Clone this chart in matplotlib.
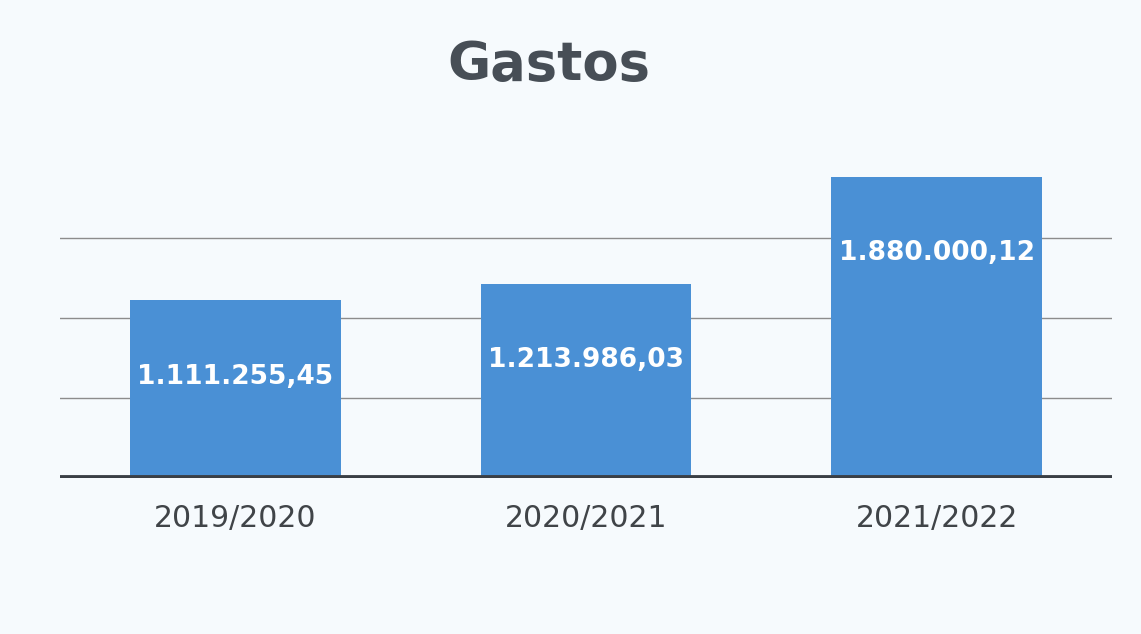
import matplotlib.pyplot as plt

categories = ["2019/2020", "2020/2021", "2021/2022"]
values = [1111255.45, 1213986.03, 1880000.12]
labels = ["1.111.255,45", "1.213.986,03", "1.880.000,12"]
title = "Gastos"

bg = "#f6fafd"
bar_color = "#4a90d5"

fig = plt.figure(figsize=(11.41, 6.34), dpi=100, facecolor=bg)
ax = fig.add_axes([0.0526, 0.246, 0.922, 0.505], facecolor=bg)

x = range(len(categories))
bars = ax.bar(x, values, width=0.6, color=bar_color, zorder=3)

ax.set_xlim(-0.5, 2.5)
ax.set_ylim(0, 2000000)
for g in [500000, 1000000, 1500000]:
    ax.axhline(g, color="#8c8c8c", lw=1.0, zorder=1)
ax.axhline(0, color="#3a3f45", lw=4.2, zorder=4)

for s in ax.spines.values():
    s.set_visible(False)
ax.set_yticks([])
ax.set_xticks(list(x))
ax.set_xticklabels(categories, fontsize=21.5, color="#404448", family="DejaVu Sans")
ax.tick_params(axis="x", length=0, pad=19)

for b, lab in zip(bars, labels):
    ax.annotate(lab, (b.get_x() + b.get_width() / 2, b.get_height()),
                xytext=(0, -55), textcoords="offset points",
                ha="center", va="center", color="white", fontsize=19,
                fontweight="bold", family="DejaVu Sans", zorder=5)

fig.text(0.481, 0.897, title, ha="center", va="center", fontsize=38,
         fontweight="bold", color="#474e56", family="DejaVu Sans")

fig.savefig("out.png", dpi=100, facecolor=bg)
